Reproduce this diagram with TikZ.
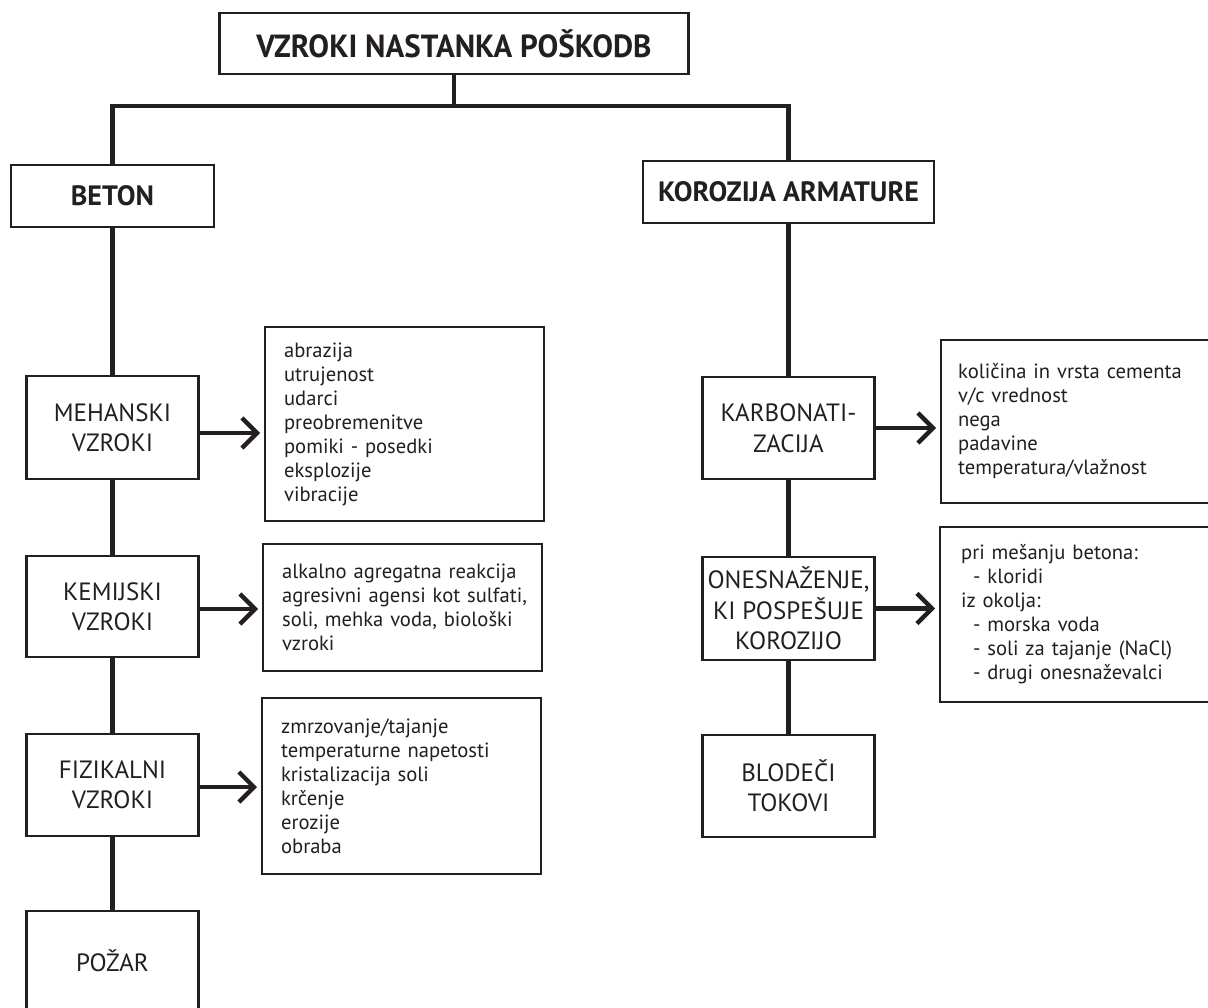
\documentclass[tikz,border=0pt]{standalone}
\usepackage{fontspec}
\usepackage{graphicx}
\setmainfont{PT Sans}
\usetikzlibrary{arrows.meta}
\definecolor{ink}{HTML}{231F20}
\hbadness=10000
\hfuzz=20pt
\begin{document}
\begin{tikzpicture}[x=1pt,y=-1pt,
  box/.style={draw=ink, line width=2.2pt, text=ink, inner sep=0pt},
  hd/.style={box, font=\bfseries\fontsize{28}{30}\selectfont},
  lbl/.style={box, align=center, minimum width=172pt, font=\fontsize{25}{30.5}\selectfont},
  lst/.style={box, anchor=west, align=left, text width=245pt, inner xsep=19pt, font=\fontsize{20.6}{24}\selectfont},
  conn/.style={draw=ink, line width=4.4pt},
  arr/.style={conn, -{Straight Barb[length=15pt,width=30pt]}, shorten >=4pt}]
\path[use as bounding box] (0,0) rectangle (1208,1008);
\clip (0,0) rectangle (1208,1008);
\fill[white] (0,0) rectangle (1208,1008);

% headers
\node[hd, minimum width=469pt, minimum height=61pt, font=\bfseries\fontsize{32}{34}\selectfont] (title) at (454,43.5) {\scalebox{0.97}[1]{VZROKI NASTANKA POŠKODB}};
\node[hd, minimum width=203pt, minimum height=62pt] (beton) at (112.5,196) {BETON};
\node[hd, minimum width=291pt, minimum height=62pt] (koro) at (788.5,192) {KOROZIJA ARMATURE};

% left column
\node[lbl, minimum height=103pt] (meh) at (112.5,427.5) {MEHANSKI\\VZROKI};
\node[lbl, minimum height=101pt] (kem) at (112.5,606.5) {KEMIJSKI\\VZROKI};
\node[lbl, minimum height=102pt] (fiz) at (112.5,785) {FIZIKALNI\\VZROKI};
\node[lbl, minimum height=100pt] (poz) at (112.5,961) {POŽAR};

% right column
\node[lbl, minimum height=102pt] (karb) at (788.5,428) {KARBONATI-\\ZACIJA};
\node[lbl, minimum height=103pt] (ones) at (788.5,608.5) {ONESNAŽENJE,\\KI POSPEŠUJE\\KOROZIJO};
\node[lbl, minimum height=102pt] (blod) at (788.5,786) {BLODEČI\\TOKOVI};

% lists
\node[lst, minimum height=194pt, text width=241pt] (l1) at (264,424) {abrazija\\utrujenost\\udarci\\preobremenitve\\pomiki - posedki\\eksplozije\\vibracije};
\node[lst, minimum height=127pt, text width=241pt] (l2) at (262,607.5) {\mbox{alkalno agregatna reakcija}\\\mbox{agresivni agensi kot sulfati,}\\\mbox{soli, mehka voda, biološki}\\vzroki};
\node[lst, minimum height=176pt, text width=241pt] (l3) at (261,786) {zmrzovanje/tajanje\\temperaturne napetosti\\kristalizacija soli\\krčenje\\erozije\\obraba};
\node[lst, minimum height=163pt, inner xsep=17pt] (l4) at (940,421.5) {količina in vrsta cementa\\v/c vrednost\\nega\\padavine\\temperatura/vlažnost};
\node[lst, minimum height=175pt, inner xsep=21pt] (l5) at (939,614.5) {pri mešanju betona:\\\hspace*{12pt}- kloridi\\iz okolja:\\\hspace*{12pt}- morska voda\\\hspace*{12pt}- soli za tajanje (NaCl)\\\hspace*{12pt}- drugi onesnaževalci};

% tree connectors
\coordinate (bar) at (454,106);
\draw[conn] (title.south) -- (title.south |- bar);
\draw[conn] (beton.north) |- (bar) -| (koro.north);
\draw[conn] (beton.south) -- (meh.north);
\draw[conn] (meh.south) -- (kem.north);
\draw[conn] (kem.south) -- (fiz.north);
\draw[conn] (fiz.south) -- (poz.north);
\draw[conn] (koro.south) -- (karb.north);
\draw[conn] (karb.south) -- (ones.north);
\draw[conn] (ones.south) -- (blod.north);

% arrows
\coordinate (a1) at ([yshift=-5.5pt]meh.east);
\coordinate (a2) at ([yshift=-2.5pt]kem.east);
\coordinate (a3) at ([yshift=-2pt]fiz.east);
\coordinate (a4) at (karb.east);
\coordinate (a5) at (ones.east);
\draw[arr] (a1) -- (a1 -| l1.west);
\draw[arr] (a2) -- (a2 -| l2.west);
\draw[arr] (a3) -- (a3 -| l3.west);
\draw[arr] (a4) -- (a4 -| l4.west);
\draw[arr] (a5) -- (a5 -| l5.west);
\end{tikzpicture}
\end{document}
